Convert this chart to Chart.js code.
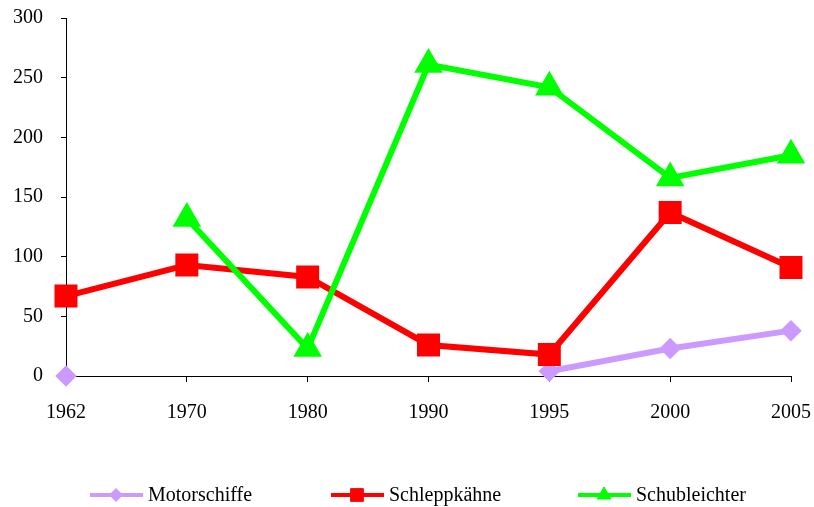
<!DOCTYPE html>
<html>
<head>
<meta charset="utf-8">
<script src="https://cdn.jsdelivr.net/npm/chart.js@4"></script>
<style>
  html, body { margin: 0; padding: 0; background: #fff; }
  #wrap { width: 814px; height: 507px; }
</style>
</head>
<body>
<div id="wrap"><canvas id="chart" width="814" height="507"></canvas></div>
<script>
const years = ["1962", "1970", "1980", "1990", "1995", "2000", "2005"]
const motorschiffe = [0, null, null, null, 4, 23, 38]
const schleppkaehne = [67, 93, 83, 26, 18, 137, 91]
const schubleichter = [null, 132, 23, 261, 242, 166, 185]
const yTicks = [0, 50, 100, 150, 200, 250, 300]

const FONT = "'Liberation Serif', 'Times New Roman', serif"

// legend drawn below the plot: line sample with marker in the middle, then the name
const legendPlugin = {
    id: "lineLegend",
    afterDraw(chart) {
        const ctx = chart.ctx
        const y = 495
        const starts = [90, 331, 578]
        const markerSize = [6.5, 9, 8]
        chart.data.datasets.forEach((ds, i) => {
            const x0 = starts[i]
            ctx.save()
            ctx.strokeStyle = ds.borderColor
            ctx.lineWidth = 4
            ctx.beginPath()
            ctx.moveTo(x0, y)
            ctx.lineTo(x0 + 53, y)
            ctx.stroke()
            ctx.fillStyle = ds.borderColor
            ctx.strokeStyle = ds.borderColor
            ctx.lineWidth = 1
            Chart.helpers.drawPoint(ctx, { pointStyle: ds.pointStyle, radius: markerSize[i], borderWidth: 1 }, x0 + 26, y)
            ctx.fillStyle = "#000"
            ctx.font = "20px " + FONT
            ctx.textBaseline = "middle"
            ctx.fillText(ds.label, x0 + 58, y + 1)
            ctx.restore()
        })
    }
}

new Chart(document.getElementById("chart"), {
    type: "line",
    data: {
        labels: years,
        datasets: [{
            label: "Motorschiffe",
            data: motorschiffe,
            borderColor: "#CC99FF",
            backgroundColor: "#CC99FF",
            pointStyle: "rectRot",
            pointRadius: 6.5,
            borderWidth: 6,
            order: 3
        }, {
            label: "Schleppkähne",
            data: schleppkaehne,
            borderColor: "#FF0000",
            backgroundColor: "#FF0000",
            pointStyle: "rect",
            pointRadius: 12,
            borderWidth: 6,
            order: 2
        }, {
            label: "Schubleichter",
            data: schubleichter,
            borderColor: "#00FF00",
            backgroundColor: "#00FF00",
            pointStyle: "triangle",
            pointRadius: 10.5,
            borderWidth: 6,
            order: 1
        }]
    },
    options: {
        responsive: false,
        animation: false,
        spanGaps: false,
        clip: false,
        layout: { padding: { top: 17, right: 23, left: 0, bottom: 81 } },
        elements: {
            line: { tension: 0 },
            point: { borderWidth: 1, hoverRadius: 8 }
        },
        plugins: {
            legend: { display: false },
            tooltip: { enabled: false }
        },
        scales: {
            x: {
                offset: false,
                grid: { drawOnChartArea: false, drawTicks: true, tickLength: 6, color: "#000" },
                border: { color: "#000", width: 1 },
                ticks: { color: "#000", font: { family: FONT, size: 20 }, padding: 19, maxRotation: 0 },
                afterFit: s => { s.height = 50; s.paddingLeft = 0; s.paddingRight = 0 }
            },
            y: {
                min: 0,
                max: 300,
                afterBuildTicks: s => { s.ticks = yTicks.map(v => ({ value: v })) },
                grid: { drawOnChartArea: false, drawTicks: true, tickLength: 5, color: "#000" },
                border: { color: "#000", width: 1 },
                ticks: { color: "#000", font: { family: FONT, size: 20 }, padding: 18 },
                afterFit: s => { s.width = 66; s.paddingTop = 0; s.paddingBottom = 0 }
            }
        }
    },
    plugins: [legendPlugin]
})
</script>
</body>
</html>
